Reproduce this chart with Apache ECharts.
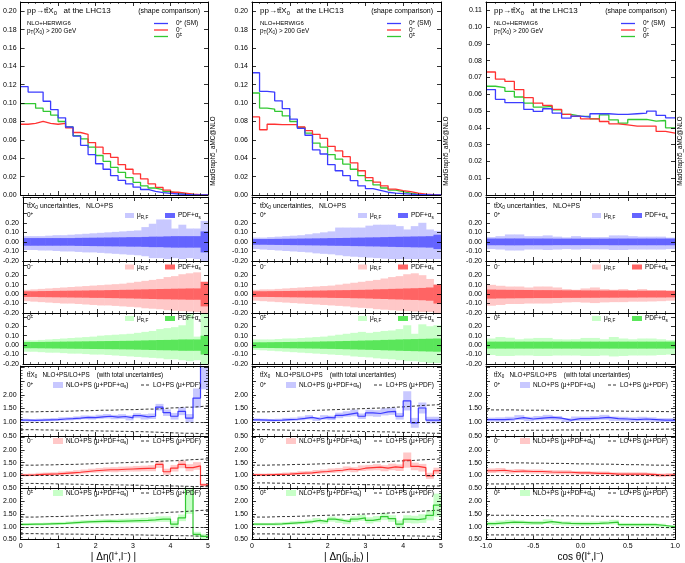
<!DOCTYPE html>
<html><head><meta charset="utf-8">
<script src="https://cdn.jsdelivr.net/npm/echarts/dist/echarts.min.js"></script>
<style>html,body{margin:0;padding:0;background:#fff}#c{width:685px;height:563px}</style>
</head><body><div id="c"></div>
<script>
// ---------- bin edges ----------
const etaEdges = [0,0.2,0.4,0.6,0.8,1,1.2,1.4,1.6,1.8,2,2.2,2.4,2.6,2.8,3,3.2,3.4,3.6,3.8,4,4.2,4.4,4.6,4.8,5];
const cosEdges = [-1,-0.9,-0.8,-0.7,-0.6,-0.5,-0.4,-0.3,-0.2,-0.1,0,0.1,0.2,0.3,0.4,0.5,0.6,0.7,0.8,0.9,1];

// ---------- column 1 : |Δη(l+,l-)| ----------
const ll_0p  = [0.118,0.112,0.112,0.102,0.093,0.084,0.074,0.064,0.054,0.044,0.034,0.028,0.021,0.016,0.012,0.0085,0.006,0.004,0.0025,0.0018,0.0011,0.0007,0.0004,0.0002,0.0001];
const ll_0m  = [0.077,0.078,0.080,0.078,0.077,0.078,0.073,0.068,0.066,0.057,0.052,0.045,0.041,0.033,0.028,0.023,0.0175,0.012,0.0083,0.0054,0.003,0.002,0.001,0.0005,0.0002];
const ll_0pm = [0.0995,0.0995,0.0945,0.091,0.087,0.080,0.074,0.0645,0.061,0.052,0.043,0.0366,0.030,0.0246,0.019,0.0138,0.010,0.0076,0.0058,0.0036,0.002,0.0014,0.0007,0.0003,0.0001];

const ll_0p_scUp  = [0.06,0.06,0.06,0.065,0.07,0.07,0.075,0.08,0.085,0.09,0.095,0.10,0.105,0.11,0.115,0.12,0.155,0.19,0.235,0.235,0.14,0.18,0.14,0.14,0.22];
const ll_0p_scDn  = [-0.085,-0.085,-0.09,-0.09,-0.095,-0.10,-0.10,-0.105,-0.11,-0.11,-0.115,-0.12,-0.125,-0.13,-0.135,-0.14,-0.15,-0.17,-0.17,-0.18,-0.17,-0.18,-0.17,-0.18,-0.2];
const ll_0p_pdf   = [0.04,0.04,0.04,0.04,0.04,0.04,0.04,0.042,0.043,0.044,0.045,0.046,0.047,0.048,0.05,0.05,0.052,0.055,0.055,0.058,0.06,0.06,0.06,0.06,0.11];
const ll_0m_scUp  = [0.045,0.05,0.055,0.06,0.065,0.07,0.075,0.08,0.085,0.09,0.095,0.10,0.105,0.11,0.12,0.13,0.14,0.15,0.16,0.18,0.19,0.21,0.22,0.23,0.13];
const ll_0m_scDn  = [-0.075,-0.08,-0.085,-0.09,-0.095,-0.10,-0.10,-0.105,-0.11,-0.115,-0.12,-0.12,-0.125,-0.13,-0.135,-0.14,-0.15,-0.155,-0.16,-0.17,-0.175,-0.18,-0.185,-0.19,-0.2];
const ll_0m_pdf   = [0.03,0.03,0.032,0.033,0.034,0.035,0.036,0.037,0.038,0.04,0.04,0.042,0.043,0.045,0.046,0.048,0.05,0.052,0.054,0.055,0.057,0.058,0.06,0.06,0.13];
const ll_0pm_scUp = [0.05,0.05,0.055,0.06,0.065,0.07,0.075,0.08,0.085,0.09,0.10,0.105,0.11,0.115,0.12,0.13,0.14,0.15,0.17,0.18,0.19,0.21,0.34,0.09,0.34];
const ll_0pm_scDn = [-0.07,-0.07,-0.075,-0.08,-0.08,-0.085,-0.09,-0.09,-0.095,-0.10,-0.10,-0.105,-0.11,-0.115,-0.12,-0.125,-0.13,-0.135,-0.14,-0.15,-0.15,-0.16,-0.17,-0.16,-0.2];
const ll_0pm_pdf  = [0.033,0.033,0.034,0.035,0.036,0.037,0.038,0.039,0.04,0.041,0.042,0.043,0.044,0.045,0.046,0.048,0.05,0.052,0.054,0.055,0.057,0.06,0.06,0.06,0.10];

const ll_0p_r     = [1.08,1.07,1.08,1.09,1.10,1.12,1.13,1.15,1.18,1.17,1.20,1.22,1.19,1.21,1.16,1.24,1.20,1.22,1.55,1.35,1.22,1.40,1.15,1.88,3.5];
const ll_0p_err   = [0.05,0.05,0.05,0.05,0.055,0.06,0.06,0.065,0.07,0.07,0.075,0.08,0.08,0.085,0.09,0.09,0.1,0.1,0.12,0.12,0.12,0.14,0.15,0.35,1.3];
const ll_0p_loUp  = [1.38,1.38,1.39,1.39,1.40,1.40,1.41,1.42,1.42,1.43,1.44,1.44,1.45,1.46,1.46,1.47,1.48,1.48,1.50,1.52,1.53,1.55,1.55,1.57,1.60];
const ll_0p_loDn  = [0.73,0.73,0.72,0.72,0.71,0.71,0.70,0.70,0.69,0.69,0.68,0.68,0.67,0.67,0.66,0.66,0.65,0.64,0.63,0.62,0.61,0.60,0.60,0.59,0.58];
const ll_0m_r     = [1.01,1.02,1.04,1.05,1.06,1.08,1.10,1.12,1.15,1.18,1.20,1.22,1.22,1.24,1.25,1.26,1.27,1.28,1.43,1.14,1.28,1.43,1.30,1.37,0.62];
const ll_0m_err   = [0.05,0.05,0.06,0.06,0.06,0.07,0.07,0.08,0.08,0.08,0.09,0.09,0.1,0.1,0.1,0.11,0.11,0.12,0.14,0.12,0.13,0.15,0.14,0.15,0.06];
const ll_0m_loUp  = [1.40,1.40,1.41,1.41,1.42,1.43,1.43,1.44,1.45,1.46,1.47,1.48,1.49,1.50,1.51,1.52,1.53,1.54,1.56,1.57,1.58,1.60,1.62,1.63,1.65];
const ll_0m_loDn  = [0.68,0.68,0.67,0.67,0.66,0.66,0.65,0.65,0.64,0.64,0.63,0.63,0.62,0.62,0.61,0.61,0.60,0.60,0.59,0.58,0.58,0.57,0.56,0.56,0.55];
const ll_0pm_r    = [1.09,1.10,1.10,1.11,1.12,1.13,1.15,1.17,1.19,1.20,1.21,1.22,1.21,1.22,1.23,1.24,1.25,1.27,1.30,1.30,1.10,1.35,2.6,0.70,0.62];
const ll_0pm_err  = [0.05,0.05,0.05,0.05,0.06,0.06,0.06,0.07,0.07,0.07,0.08,0.08,0.08,0.09,0.09,0.09,0.1,0.1,0.11,0.11,0.12,0.13,1.1,0.1,0.1];
const ll_0pm_loUp = [1.38,1.38,1.39,1.40,1.40,1.41,1.42,1.43,1.44,1.45,1.46,1.47,1.48,1.49,1.50,1.51,1.52,1.54,1.55,1.57,1.58,1.60,1.62,1.64,1.65];
const ll_0pm_loDn = [0.73,0.73,0.72,0.72,0.72,0.71,0.71,0.71,0.70,0.70,0.70,0.69,0.69,0.69,0.68,0.68,0.67,0.67,0.66,0.66,0.65,0.65,0.64,0.63,0.62];

// ---------- column 2 : |Δη(jb,jb)| ----------
const bb_0p  = [0.133,0.1127,0.112,0.1025,0.094,0.0826,0.0725,0.065,0.049,0.0446,0.033,0.0264,0.021,0.0156,0.010,0.007,0.005,0.003,0.002,0.0015,0.001,0.0005,0.0003,0.0001,0.0001];
const bb_0m  = [0.085,0.071,0.077,0.0765,0.0765,0.0765,0.074,0.070,0.066,0.0616,0.053,0.048,0.0417,0.035,0.0264,0.019,0.014,0.010,0.0065,0.0047,0.0036,0.002,0.001,0.0005,0.0002];
const bb_0pm = [0.111,0.0946,0.0935,0.091,0.086,0.080,0.0735,0.0674,0.0565,0.052,0.044,0.039,0.0337,0.028,0.021,0.0156,0.011,0.0076,0.0054,0.0036,0.002,0.001,0.0005,0.0002,0.0001];

const bb_0p_scUp  = [0.045,0.045,0.05,0.055,0.06,0.065,0.07,0.08,0.09,0.10,0.11,0.15,0.15,0.15,0.15,0.17,0.18,0.18,0.18,0.165,0.13,0.165,0.2,0.13,0.115];
const bb_0p_scDn  = [-0.075,-0.08,-0.085,-0.09,-0.095,-0.10,-0.105,-0.11,-0.12,-0.125,-0.13,-0.14,-0.15,-0.155,-0.16,-0.165,-0.17,-0.175,-0.18,-0.18,-0.18,-0.18,-0.18,-0.18,-0.18];
const bb_0p_pdf   = [0.03,0.03,0.031,0.032,0.033,0.034,0.035,0.036,0.037,0.038,0.04,0.041,0.042,0.044,0.045,0.047,0.048,0.05,0.052,0.054,0.055,0.057,0.058,0.06,0.075];
const bb_0m_scUp  = [0.045,0.05,0.05,0.055,0.06,0.065,0.07,0.075,0.08,0.085,0.09,0.10,0.11,0.12,0.13,0.14,0.15,0.165,0.18,0.19,0.21,0.22,0.2,0.16,0.1];
const bb_0m_scDn  = [-0.07,-0.075,-0.08,-0.085,-0.09,-0.095,-0.10,-0.105,-0.11,-0.115,-0.12,-0.125,-0.13,-0.14,-0.145,-0.15,-0.16,-0.165,-0.17,-0.175,-0.18,-0.185,-0.19,-0.19,-0.2];
const bb_0m_pdf   = [0.03,0.03,0.031,0.032,0.033,0.034,0.035,0.036,0.037,0.038,0.04,0.041,0.042,0.044,0.045,0.047,0.05,0.052,0.055,0.057,0.06,0.062,0.065,0.07,0.1];
const bb_0pm_scUp = [0.06,0.06,0.06,0.065,0.07,0.07,0.075,0.08,0.085,0.09,0.10,0.11,0.12,0.13,0.14,0.13,0.14,0.15,0.155,0.17,0.21,0.12,0.22,0.20,0.21];
const bb_0pm_scDn = [-0.05,-0.055,-0.06,-0.065,-0.07,-0.075,-0.08,-0.085,-0.09,-0.095,-0.10,-0.105,-0.11,-0.12,-0.125,-0.13,-0.14,-0.145,-0.15,-0.16,-0.17,-0.17,-0.18,-0.19,-0.19];
const bb_0pm_pdf  = [0.03,0.03,0.031,0.032,0.033,0.034,0.035,0.036,0.037,0.039,0.04,0.042,0.044,0.046,0.048,0.05,0.052,0.055,0.057,0.06,0.062,0.064,0.066,0.068,0.07];

const bb_0p_r     = [1.09,1.08,1.07,1.08,1.10,1.11,1.14,1.18,1.12,1.18,1.16,1.25,1.30,1.34,1.22,1.34,1.32,1.38,1.40,1.22,1.78,0.98,1.52,1.08,1.08];
const bb_0p_err   = [0.05,0.05,0.05,0.05,0.06,0.06,0.07,0.08,0.07,0.08,0.08,0.10,0.10,0.12,0.10,0.12,0.12,0.13,0.13,0.12,0.35,0.18,0.2,0.12,0.12];
const bb_0p_loUp  = [1.38,1.38,1.39,1.39,1.40,1.41,1.42,1.43,1.44,1.45,1.46,1.47,1.48,1.49,1.50,1.51,1.52,1.53,1.55,1.56,1.58,1.60,1.62,1.63,1.65];
const bb_0p_loDn  = [0.73,0.73,0.72,0.72,0.71,0.71,0.70,0.70,0.69,0.69,0.68,0.68,0.67,0.67,0.66,0.66,0.65,0.65,0.64,0.63,0.63,0.62,0.61,0.60,0.60];
const bb_0m_r     = [1.02,1.02,1.03,1.04,1.05,1.07,1.09,1.10,1.13,1.15,1.18,1.20,1.25,1.22,1.28,1.30,1.32,1.28,1.33,1.30,1.60,1.35,1.30,0.98,1.18];
const bb_0m_err   = [0.05,0.05,0.05,0.05,0.06,0.06,0.07,0.07,0.08,0.08,0.09,0.09,0.1,0.1,0.11,0.11,0.12,0.12,0.13,0.13,0.3,0.15,0.15,0.12,0.12];
const bb_0m_loUp  = [1.40,1.40,1.41,1.41,1.42,1.43,1.43,1.44,1.45,1.46,1.47,1.48,1.49,1.50,1.51,1.52,1.53,1.54,1.56,1.57,1.58,1.60,1.62,1.63,1.65];
const bb_0m_loDn  = [0.70,0.70,0.69,0.69,0.68,0.68,0.67,0.67,0.66,0.66,0.65,0.65,0.64,0.64,0.63,0.63,0.62,0.62,0.61,0.61,0.60,0.60,0.59,0.58,0.58];
const bb_0pm_r    = [1.10,1.10,1.10,1.11,1.13,1.15,1.17,1.20,1.25,1.20,1.30,1.25,1.20,1.30,1.35,1.25,1.30,1.40,1.32,1.10,1.30,1.28,1.32,1.45,1.85];
const bb_0pm_err  = [0.05,0.05,0.05,0.06,0.06,0.07,0.07,0.08,0.09,0.08,0.1,0.1,0.1,0.11,0.12,0.12,0.12,0.14,0.13,0.15,0.15,0.15,0.17,0.2,0.45];
const bb_0pm_loUp = [1.38,1.38,1.39,1.40,1.40,1.41,1.42,1.43,1.44,1.45,1.46,1.47,1.48,1.49,1.50,1.51,1.52,1.54,1.55,1.57,1.58,1.60,1.62,1.64,1.65];
const bb_0pm_loDn = [0.72,0.72,0.72,0.71,0.71,0.71,0.70,0.70,0.70,0.69,0.69,0.69,0.68,0.68,0.67,0.67,0.66,0.66,0.65,0.65,0.64,0.64,0.63,0.63,0.62];

// ---------- column 3 : cos θ(l+,l-) ----------
const cos_0p  = [0.0628,0.057,0.055,0.055,0.051,0.0498,0.0514,0.0488,0.0458,0.047,0.0464,0.0484,0.0484,0.048,0.048,0.0484,0.0488,0.050,0.0474,0.046];
const cos_0m  = [0.0733,0.069,0.0677,0.0628,0.058,0.0548,0.0534,0.051,0.048,0.0468,0.0454,0.0454,0.0438,0.0424,0.0418,0.041,0.041,0.041,0.0379,0.0369];
const cos_0pm = [0.0648,0.064,0.0618,0.0584,0.0548,0.0524,0.0528,0.0508,0.048,0.047,0.0468,0.0454,0.0478,0.0448,0.0428,0.045,0.045,0.044,0.0444,0.040];

const cos_0p_scUp  = [0.05,0.06,0.078,0.078,0.06,0.06,0.068,0.055,0.047,0.06,0.05,0.05,0.05,0.068,0.068,0.06,0.055,0.055,0.055,0.045];
const cos_0p_scDn  = [-0.075,-0.08,-0.09,-0.09,-0.08,-0.08,-0.085,-0.08,-0.075,-0.08,-0.075,-0.078,-0.078,-0.085,-0.085,-0.08,-0.08,-0.08,-0.08,-0.075];
const cos_0p_pdf   = [0.035,0.035,0.036,0.036,0.035,0.035,0.035,0.034,0.034,0.034,0.034,0.034,0.034,0.035,0.035,0.035,0.035,0.035,0.035,0.035];
const cos_0m_scUp  = [0.098,0.088,0.08,0.08,0.07,0.08,0.08,0.07,0.053,0.046,0.06,0.07,0.053,0.046,0.053,0.042,0.053,0.042,0.042,0.035];
const cos_0m_scDn  = [-0.123,-0.115,-0.105,-0.105,-0.1,-0.1,-0.1,-0.095,-0.088,-0.085,-0.09,-0.095,-0.088,-0.085,-0.085,-0.08,-0.08,-0.078,-0.075,-0.07];
const cos_0m_pdf   = [0.048,0.046,0.045,0.044,0.043,0.042,0.042,0.041,0.04,0.04,0.039,0.039,0.038,0.038,0.037,0.037,0.036,0.036,0.036,0.035];
const cos_0pm_scUp = [0.07,0.086,0.078,0.062,0.07,0.076,0.076,0.062,0.06,0.062,0.076,0.076,0.062,0.086,0.07,0.062,0.07,0.07,0.062,0.052];
const cos_0pm_scDn = [-0.105,-0.115,-0.115,-0.11,-0.11,-0.115,-0.115,-0.11,-0.11,-0.11,-0.115,-0.115,-0.11,-0.12,-0.115,-0.11,-0.11,-0.11,-0.105,-0.1];
const cos_0pm_pdf  = [0.037,0.037,0.037,0.037,0.037,0.037,0.037,0.037,0.037,0.037,0.037,0.037,0.037,0.037,0.037,0.037,0.037,0.037,0.037,0.037];

const cos_0p_r     = [1.10,1.10,1.12,1.17,1.12,1.15,1.18,1.15,1.08,1.13,1.13,1.15,1.18,1.13,1.12,1.10,1.12,1.10,1.08,1.08];
const cos_0p_err   = [0.07,0.08,0.08,0.09,0.08,0.08,0.09,0.08,0.07,0.08,0.08,0.08,0.09,0.08,0.08,0.08,0.08,0.08,0.07,0.07];
const cos_0p_loUp  = [1.45,1.45,1.45,1.44,1.44,1.44,1.43,1.43,1.43,1.42,1.42,1.41,1.41,1.41,1.40,1.40,1.40,1.39,1.39,1.38];
const cos_0p_loDn  = [0.70,0.70,0.70,0.71,0.71,0.71,0.71,0.72,0.72,0.72,0.72,0.73,0.73,0.73,0.73,0.74,0.74,0.74,0.75,0.75];
const cos_0m_r     = [1.18,1.20,1.15,1.17,1.15,1.15,1.13,1.12,1.12,1.10,1.10,1.08,1.08,1.05,1.05,1.05,1.05,1.03,1.00,1.02];
const cos_0m_err   = [0.09,0.09,0.08,0.08,0.08,0.08,0.08,0.08,0.08,0.07,0.07,0.07,0.07,0.07,0.07,0.07,0.07,0.07,0.07,0.07];
const cos_0m_loUp  = [1.50,1.50,1.49,1.49,1.48,1.48,1.47,1.47,1.46,1.45,1.45,1.44,1.44,1.43,1.42,1.42,1.41,1.40,1.40,1.39];
const cos_0m_loDn  = [0.66,0.66,0.66,0.66,0.67,0.67,0.67,0.67,0.67,0.67,0.68,0.68,0.68,0.68,0.68,0.68,0.69,0.69,0.69,0.69];
const cos_0pm_r    = [1.12,1.15,1.18,1.17,1.15,1.15,1.20,1.15,1.13,1.12,1.12,1.13,1.15,1.18,1.08,1.08,1.08,1.08,1.05,1.00];
const cos_0pm_err  = [0.08,0.09,0.09,0.08,0.08,0.08,0.09,0.08,0.08,0.08,0.08,0.08,0.08,0.09,0.07,0.07,0.07,0.07,0.07,0.07];
const cos_0pm_loUp = [1.45,1.45,1.45,1.44,1.44,1.44,1.43,1.43,1.43,1.42,1.42,1.41,1.41,1.41,1.40,1.40,1.40,1.39,1.39,1.38];
const cos_0pm_loDn = [0.68,0.68,0.68,0.68,0.68,0.68,0.68,0.68,0.68,0.68,0.68,0.68,0.68,0.68,0.68,0.68,0.68,0.68,0.68,0.68];

// ---------- labels ----------
const hypLabels = ['{b|0}{sp|+}', '{b|0}{sp|\u2212}', '{b|0}{sp|\u00b1}'];
const legendLabels = ['{b|0}{sp|+}{b| (SM)}', '{b|0}{sp|\u2212}', '{b|0}{sp|\u00b1}'];
const axisTitles = [
  '{b|| \u0394\u03b7(l}{sp|+}{b|,l}{sp|\u2212}{b|) |}',
  '{b|| \u0394\u03b7(j}{sb|b}{b|,j}{sb|b}{b|) |}',
  '{b|cos \u03b8(l}{sp|+}{b|,l}{sp|\u2212}{b|)}'
];

// ---------- styles & layout ----------
const FF = '"Liberation Sans", Arial, Helvetica, sans-serif';
const hypColors = [
  {line:'#3c3cff', light:'#c8c8ff', dark:'#6464ff'},
  {line:'#ff3232', light:'#ffc8c8', dark:'#ff6464'},
  {line:'#32c832', light:'#c8ffc8', dark:'#5ae65a'}
];
const colLeft = [19, 252, 486], colW = 189;
const rows = [
  {top: 2, h: 193},
  {top: 197, h: 64, min: -0.2, max: 0.47},
  {top: 261, h: 52, min: -0.2, max: 0.35},
  {top: 313, h: 51, min: -0.2, max: 0.34},
  {top: 366, h: 70, min: 0.5, max: 3.05},
  {top: 436, h: 52, min: 0.5, max: 2.55},
  {top: 488, h: 51.5, min: 0.5, max: 2.52}
];
const cols = [
  {edges: etaEdges, xmin: 0, xmax: 5, xint: 1, dmax: 0.21, dint: 0.02,
   dist: [ll_0p, ll_0m, ll_0pm],
   unc: [[ll_0p_scUp, ll_0p_scDn, ll_0p_pdf], [ll_0m_scUp, ll_0m_scDn, ll_0m_pdf], [ll_0pm_scUp, ll_0pm_scDn, ll_0pm_pdf]],
   ratio: [[ll_0p_r, ll_0p_err, ll_0p_loUp, ll_0p_loDn], [ll_0m_r, ll_0m_err, ll_0m_loUp, ll_0m_loDn], [ll_0pm_r, ll_0pm_err, ll_0pm_loUp, ll_0pm_loDn]]},
  {edges: etaEdges, xmin: 0, xmax: 5, xint: 1, dmax: 0.21, dint: 0.02,
   dist: [bb_0p, bb_0m, bb_0pm],
   unc: [[bb_0p_scUp, bb_0p_scDn, bb_0p_pdf], [bb_0m_scUp, bb_0m_scDn, bb_0m_pdf], [bb_0pm_scUp, bb_0pm_scDn, bb_0pm_pdf]],
   ratio: [[bb_0p_r, bb_0p_err, bb_0p_loUp, bb_0p_loDn], [bb_0m_r, bb_0m_err, bb_0m_loUp, bb_0m_loDn], [bb_0pm_r, bb_0pm_err, bb_0pm_loUp, bb_0pm_loDn]]},
  {edges: cosEdges, xmin: -1, xmax: 1, xint: 0.5, dmax: 0.115, dint: 0.01,
   dist: [cos_0p, cos_0m, cos_0pm],
   unc: [[cos_0p_scUp, cos_0p_scDn, cos_0p_pdf], [cos_0m_scUp, cos_0m_scDn, cos_0m_pdf], [cos_0pm_scUp, cos_0pm_scDn, cos_0pm_pdf]],
   ratio: [[cos_0p_r, cos_0p_err, cos_0p_loUp, cos_0p_loDn], [cos_0m_r, cos_0m_err, cos_0m_loUp, cos_0m_loDn], [cos_0pm_r, cos_0pm_err, cos_0pm_loUp, cos_0pm_loDn]]}
];

function onGrid(v, step) { return Math.abs(v / step - Math.round(v / step)) < 1e-6; }
function clean(v) { return Math.abs(v) < 1e-9 ? 0 : v; }
function stepData(edges, vals) { const n = vals.length; return edges.map((e, i) => [e, vals[Math.min(i, n - 1)]]); }
function binData(edges, lo, hi) { return lo.map((l, i) => [edges[i], edges[i + 1], l, hi[i]]); }

const grids = [], xAxes = [], yAxes = [], series = [], graphics = [];

function bandSeries(ai, data, color) {
  series.push({
    type: 'custom', xAxisIndex: ai, yAxisIndex: ai, data, silent: true, z: 2,
    encode: {x: [0, 1], y: [2, 3]},
    renderItem(params, api) {
      const cs = params.coordSys;
      const a = api.coord([api.value(0), api.value(3)]);
      const b = api.coord([api.value(1), api.value(2)]);
      const y0 = Math.max(Math.min(a[1], b[1]), cs.y);
      const y1 = Math.min(Math.max(a[1], b[1]), cs.y + cs.height);
      if (y1 <= y0) return null;
      const x1 = Math.min(b[0] + 0.5, cs.x + cs.width);
      return {type: 'rect', shape: {x: a[0], y: y0, width: x1 - a[0], height: y1 - y0}, style: {fill: color}};
    }
  });
}
function stepSeries(ai, data, color, width, dashed, extra) {
  series.push(Object.assign({
    type: 'line', xAxisIndex: ai, yAxisIndex: ai, data, step: 'end', symbol: 'none', silent: true,
    clip: true, z: 3, animation: false,
    lineStyle: {color, width, type: dashed ? [3, 2] : 'solid'}
  }, extra || {}));
}

function rich(size) {
  return {
    b: {fontSize: size, fontFamily: FF, lineHeight: size * 1.3},
    sb: {fontSize: size * 0.72, fontFamily: FF, lineHeight: size * 0.72, verticalAlign: 'bottom'},
    sp: {fontSize: size * 0.72, fontFamily: FF, lineHeight: size * 0.72, verticalAlign: 'top'}
  };
}
function txt(x, y, text, size, align, rot) {
  graphics.push({type: 'text', x, y, rotation: rot || 0, silent: true, z: 100,
    style: {text, rich: rich(size), fill: '#000', fontSize: size, fontFamily: FF,
      align: align || 'left', verticalAlign: 'middle'}});
}
function rectG(x, y, w, h, color) {
  graphics.push({type: 'rect', silent: true, z: 100, shape: {x, y, width: w, height: h}, style: {fill: color}});
}
function lineG(x1, y1, x2, y2, color, width, dashed) {
  graphics.push({type: 'line', silent: true, z: 100, shape: {x1, y1, x2, y2},
    style: {stroke: color, lineWidth: width, lineDash: dashed ? [3, 2] : null}});
}

cols.forEach((col, c) => {
  const L = colLeft[c];
  rows.forEach((row, r) => {
    const g = grids.length;
    grids.push({left: L, top: row.top, width: colW, height: row.h, show: false});
    const isBottom = r === rows.length - 1;
    let ymin, ymax, yint, yfmt, yMinor;
    if (r === 0) {
      ymin = 0; ymax = col.dmax; yint = col.dint; yMinor = false;
      yfmt = v => onGrid(v, yint) ? clean(v).toFixed(2) : '';
    } else if (r <= 3) {
      ymin = row.min; ymax = row.max; yint = 0.1; yMinor = false;
      yfmt = v => (v <= 0.2001 && onGrid(v, 0.1)) ? clean(v).toFixed(2) : '';
    } else {
      ymin = row.min; ymax = row.max; yint = 0.5; yMinor = true;
      yfmt = v => (v <= 2.0001 && onGrid(v, 0.5)) ? clean(v).toFixed(2) : '';
    }
    const xfmt = c === 2 ? (v => clean(v).toFixed(1)) : (v => String(Math.round(v)));
    const base = {
      type: 'value', gridIndex: g, z: 10, splitLine: {show: false},
      axisLine: {show: true, onZero: false, lineStyle: {color: '#000', width: 1}},
      axisTick: {show: true, inside: true, length: 4, lineStyle: {color: '#000', width: 0.8}}
    };
    ['bottom', 'top'].forEach(pos => {
      xAxes.push(Object.assign({}, base, {
        position: pos, min: col.xmin, max: col.xmax, interval: col.xint,
        minorTick: {show: true, splitNumber: 5, length: 2, lineStyle: {color: '#000', width: 0.6}},
        axisLabel: {show: isBottom && pos === 'bottom', fontSize: 7, fontFamily: FF, color: '#000', margin: 3, formatter: xfmt}
      }));
    });
    ['left', 'right'].forEach(pos => {
      yAxes.push(Object.assign({}, base, {
        position: pos, min: ymin, max: ymax, interval: yint,
        minorTick: {show: yMinor, splitNumber: 5, length: 2, lineStyle: {color: '#000', width: 0.6}},
        axisLabel: {show: pos === 'left', fontSize: 7, fontFamily: FF, color: '#000', margin: 4, formatter: yfmt,
          showMaxLabel: false}
      }));
    });
    const ai = 2 * g;
    if (r === 0) {
      [2, 1, 0].forEach(h => stepSeries(ai, stepData(col.edges, col.dist[h]), hypColors[h].line, 1.3));
    } else if (r <= 3) {
      const h = r - 1, u = col.unc[h];
      bandSeries(ai, binData(col.edges, u[1], u[0]), hypColors[h].light);
      bandSeries(ai, binData(col.edges, u[2].map(v => -v), u[2]), hypColors[h].dark);
    } else {
      const h = r - 4, q = col.ratio[h];
      bandSeries(ai, binData(col.edges, q[0].map((v, i) => v - q[1][i]), q[0].map((v, i) => v + q[1][i])), hypColors[h].light);
      stepSeries(ai, stepData(col.edges, q[2]), '#000', 0.8, true, {
        markLine: {silent: true, symbol: 'none', animation: false, label: {show: false},
          lineStyle: {color: '#000', width: 0.8, type: [3, 2]}, data: [{yAxis: 1}]}
      });
      stepSeries(ai, stepData(col.edges, q[3]), '#000', 0.8, true);
      stepSeries(ai, stepData(col.edges, q[0]), hypColors[h].line, 1.2);
    }
  });

  // ----- annotations -----
  txt(L + 8, 11, '{b|pp\u2192tt\u0304X}{sb|0}{b|   at the LHC13}', 8);
  txt(L + 8, 23, '{b|NLO+HERWIG6}', 6);
  txt(L + 8, 31, '{b|p}{sb|T}{b|(X}{sb|0}{b|) > 200 GeV}', 6.3);
  txt(L + 181, 11, '{b|(shape comparison)}', 7, 'right');
  [23.5, 30, 36.5].forEach((y, h) => {
    lineG(L + 135, y, L + 149, y, hypColors[h].line, 1.3);
    txt(L + 157, y, legendLabels[h], 6.5);
  });
  txt(L + 194, 151, '{b|MadGraph5_aMC@NLO}', 6.3, 'center', Math.PI / 2);

  txt(L + 8, 206, '{b|tt\u0304X}{sb|0}{b| uncertainties,   NLO+PS}', 6.8);
  [215.5, 267, 318.5].forEach((y, h) => {
    txt(L + 8, y, hypLabels[h], 6.5);
    rectG(L + 106, y - 2.5, 9, 5, hypColors[h].light);
    txt(L + 118, y, '{b|\u03bc}{sb|R,F}', 6.5);
    rectG(L + 146, y - 2.5, 10, 5, hypColors[h].dark);
    txt(L + 159, y, '{b|PDF+\u03b1}{sb|s}', 6.5);
  });

  txt(L + 8, 375, '{b|tt\u0304X}{sb|0}{b|   NLO+PS/LO+PS    (with total uncertainties)}', 6.3);
  [385, 441, 493].forEach((y, h) => {
    txt(L + 8, y, hypLabels[h], 6.5);
    rectG(L + 34, y - 3, 10, 6, hypColors[h].light);
    txt(L + 47, y, '{b|NLO+PS (\u03bc+PDF+\u03b1}{sb|s}{b|)}', 6.5);
    lineG(L + 122, y, L + 131, y, '#000', 0.8, true);
    txt(L + 134, y, '{b|LO+PS (\u03bc+PDF)}', 6.5);
  });

  txt(L + 94.5, 557, axisTitles[c], 10, 'center');
});

const chart = echarts.init(document.getElementById('c'), null, {renderer: 'canvas'});
chart.setOption({
  animation: false,
  backgroundColor: '#fff',
  grid: grids, xAxis: xAxes, yAxis: yAxes, series, graphic: graphics
});
</script></body></html>
